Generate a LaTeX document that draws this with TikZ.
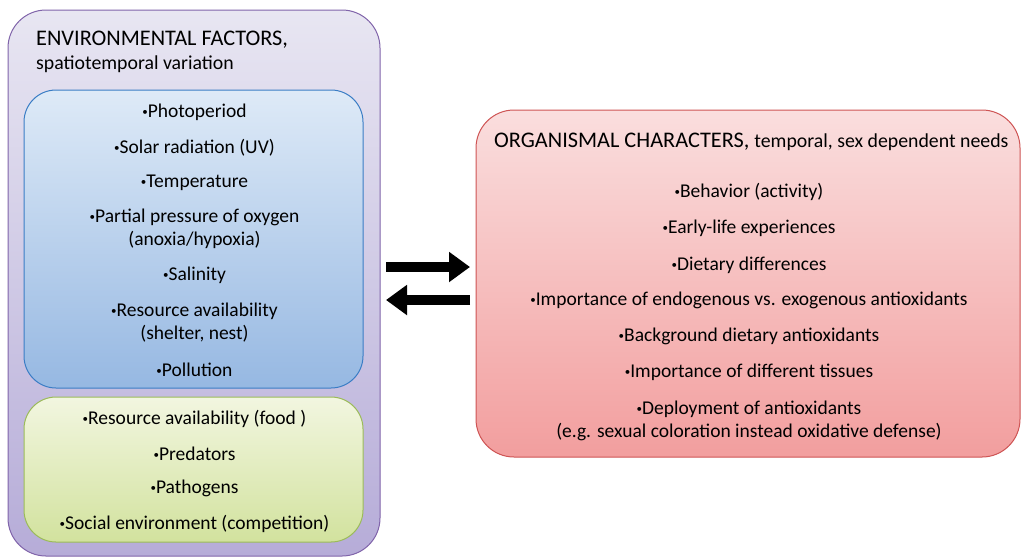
\documentclass[tikz,border=0pt]{standalone}
\usepackage{fontspec}
\setmainfont{Carlito}
\usetikzlibrary{arrows.meta}
\definecolor{envd}{RGB}{128,100,170}
\definecolor{envt}{RGB}{232,230,242}
\definecolor{envb}{RGB}{182,172,216}
\definecolor{abid}{RGB}{58,125,197}
\definecolor{abit}{RGB}{222,234,247}
\definecolor{abib}{RGB}{150,184,226}
\definecolor{biod}{RGB}{155,187,89}
\definecolor{biot}{RGB}{242,246,224}
\definecolor{biob}{RGB}{210,226,158}
\definecolor{orgd}{RGB}{206,84,84}
\definecolor{orgt}{RGB}{250,222,222}
\definecolor{orgb}{RGB}{242,158,158}
\newcommand{\bul}{\raisebox{2pt}{\fontsize{11}{11}\selectfont •}}

\begin{document}
\begin{tikzpicture}[x=1pt, y=1pt, node distance=35pt,
  panel/.style={rectangle, draw, line width=1pt, rounded corners=38pt, inner sep=0pt},
  item/.style={align=center, inner sep=0pt, font=\fontsize{19.5}{23}\selectfont},
  head/.style={anchor=west, inner sep=0pt, font=\fontsize{22.3}{26}\selectfont},
  swap/.style={line width=10pt, -{Triangle[length=21pt, width=29pt]}}]

  \useasboundingbox (0,0) rectangle (1022,-558);

  \node[panel, draw=envd, top color=envt, bottom color=envb, minimum width=372pt, minimum height=546pt] (env) at (194,-283) {};
  \node[panel, draw=abid, top color=abit, bottom color=abib, rounded corners=32pt, minimum width=339pt, minimum height=298pt] (abio) at (193.5,-239) {};
  \node[panel, draw=biod, top color=biot, bottom color=biob, rounded corners=32pt, minimum width=339pt, minimum height=145pt] (bio) at (193.5,-469.5) {};
  \node[panel, draw=orgd, top color=orgt, bottom color=orgb, minimum width=544pt, minimum height=347pt] (org) at (748,-283.5) {};

  \node[head] (envtitle) at (36,-39.5) {ENVIRONMENTAL FACTORS,};
  \node[head, font=\fontsize{19.8}{23}\selectfont] (envsub) at (36,-64.5) {spatiotemporal variation};
  \node[head] (orgtitle) at (494,-141.5) {ORGANISMAL CHARACTERS, {\fontsize{19.8}{23}\selectfont temporal, sex dependent needs}};

  \node[item] (photo) at (194.5,-112.5) {\bul Photoperiod};
  \node[item, below of=photo] (solar) {\bul Solar radiation (UV)};
  \node[item, below of=solar] (temp) {\bul Temperature};
  \node[item, below of=temp, node distance=46.5pt] (oxy) {\bul Partial pressure of oxygen\\(anoxia/hypoxia)};
  \node[item, below of=oxy, node distance=46.5pt] (sal) {\bul Salinity};
  \node[item, below of=sal, node distance=47.5pt] (shelter) {\bul Resource availability\\(shelter, nest)};
  \node[item, below of=shelter, node distance=46.5pt] (poll) {\bul Pollution};

  \node[item] (food) at (194.5,-418.5) {\bul Resource availability (food )};
  \node[item, below of=food] (pred) {\bul Predators};
  \node[item, below of=pred] (path) {\bul Pathogens};
  \node[item, below of=path] (social) {\bul Social environment (competition)};

  \node[item] (behav) at (749,-191.5) {\bul Behavior (activity)};
  \node[item, below of=behav, node distance=37pt] (early) {\bul Early-life experiences};
  \node[item, below of=early, node distance=37pt] (diet) {\bul Dietary differences};
  \node[item, below of=diet] (endo) {\bul Importance of endogenous vs. exogenous antioxidants};
  \node[item, below of=endo, node distance=36pt] (backg) {\bul Background dietary antioxidants};
  \node[item, below of=backg, node distance=36pt] (tissue) {\bul Importance of different tissues};
  \node[item, below of=tissue, node distance=48.5pt] (deploy) {\bul Deployment of antioxidants\\(e.g. sexual coloration instead oxidative defense)};

  \coordinate (fwdstart) at (386,-267);
  \coordinate (fwdend) at (470,-267);
  \coordinate (backstart) at (470,-300);
  \coordinate (backend) at (386,-300);

  \draw[swap] (fwdstart) -- (fwdend);
  \draw[swap] (backstart) -- (backend);

\end{tikzpicture}
\end{document}
